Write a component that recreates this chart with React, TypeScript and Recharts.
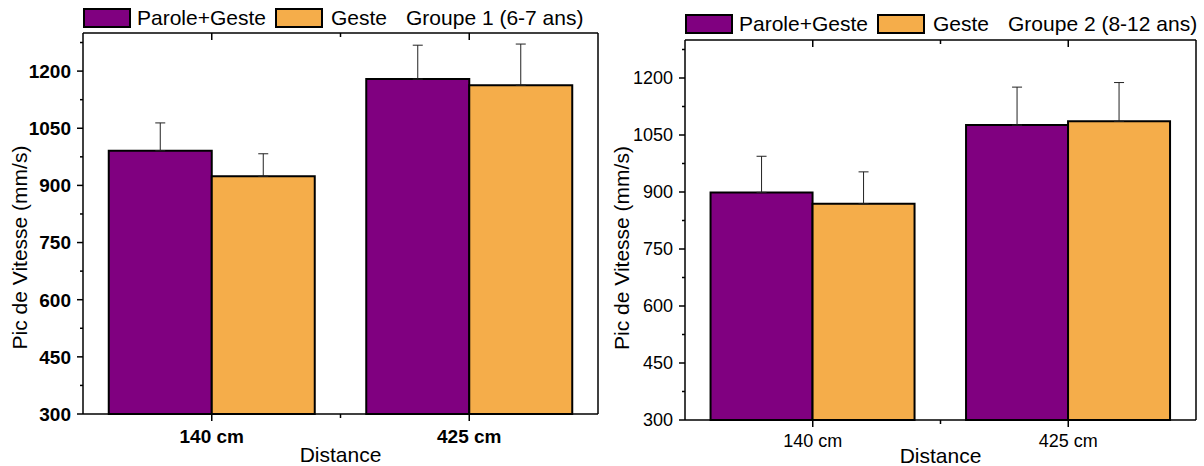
import { Bar, BarChart, ErrorBar, Label, XAxis, YAxis } from 'recharts'

const DISTANCES = ['140 cm', '425 cm']
const POSITIONS = [1, 2]
const SERIES = ['Parole+Geste', 'Geste']

const G1_PAROLE_GESTE = [991, 1179]
const G1_PAROLE_GESTE_ERR = [73, 89]
const G1_GESTE = [924, 1163]
const G1_GESTE_ERR = [59, 108]

const G2_PAROLE_GESTE = [899, 1076]
const G2_PAROLE_GESTE_ERR = [95, 100]
const G2_GESTE = [869, 1086]
const G2_GESTE_ERR = [84, 102]

const Y_MAJOR = [300, 450, 600, 750, 900, 1050, 1200]
const Y_MINOR = [375, 525, 675, 825, 975, 1125, 1275]
const Y_TICKS = [...Y_MAJOR, ...Y_MINOR].sort((a, b) => a - b)
const X_TICKS = [1, 1.5, 2]

const COLORS = {
  paroleGeste: '#800080',
  geste: '#F5AD4A',
  axis: '#000',
  err: '#222',
}

function buildRows(pg: number[], pgErr: number[], g: number[], gErr: number[]) {
  return DISTANCES.map((d, i) => ({
    distance: d,
    pos: POSITIONS[i],
    pg: pg[i],
    pgErr: [0, pgErr[i]],
    g: g[i],
    gErr: [0, gErr[i]],
  }))
}

const group1 = buildRows(G1_PAROLE_GESTE, G1_PAROLE_GESTE_ERR, G1_GESTE, G1_GESTE_ERR)
const group2 = buildRows(G2_PAROLE_GESTE, G2_PAROLE_GESTE_ERR, G2_GESTE, G2_GESTE_ERR)

type PanelCfg = {
  rows: typeof group1
  title: string
  left: number
  margin: { top: number; right: number; left: number; bottom: number }
  bottomHeight: number
  bold: boolean
  fontSize: number
  legendTop: number
  yTitleShift: number
  xTitleOffset: number
  xLabelOffset: number
}

function Panel(cfg: PanelCfg) {
  const weight = cfg.bold ? 'bold' : 'normal'

  const leftTick = (p: any) => {
    const major = Y_MAJOR.includes(p.payload.value)
    return (
      <g>
        <line x1={p.x - (major ? 6 : 3)} x2={p.x} y1={p.y} y2={p.y} stroke={COLORS.axis} strokeWidth={1.5} />
        {major && (
          <text x={p.x - 12} y={p.y} dy="0.36em" textAnchor="end" fontSize={cfg.fontSize} fontWeight={weight} fill="#000">
            {p.payload.value}
          </text>
        )}
      </g>
    )
  }
  const rightTick = (p: any) => {
    const major = Y_MAJOR.includes(p.payload.value)
    return <line x1={p.x - (major ? 6 : 3)} x2={p.x} y1={p.y} y2={p.y} stroke={COLORS.axis} strokeWidth={1.5} />
  }
  const topTick = (p: any) => {
    const major = POSITIONS.includes(p.payload.value)
    return <line x1={p.x} x2={p.x} y1={p.y} y2={p.y + (major ? 7 : 4)} stroke={COLORS.axis} strokeWidth={1.5} />
  }
  const bottomTick = (p: any) => {
    const idx = POSITIONS.indexOf(p.payload.value)
    return (
      <g>
        <line x1={p.x} x2={p.x} y1={p.y} y2={p.y + (idx >= 0 ? 7 : 4)} stroke={COLORS.axis} strokeWidth={1.5} />
        {idx >= 0 && (
          <text x={p.x} y={p.y + cfg.xLabelOffset} dy="0.36em" textAnchor="middle" fontSize={cfg.fontSize} fontWeight={weight} fill="#000">
            {DISTANCES[idx]}
          </text>
        )}
      </g>
    )
  }

  return (
    <div style={{ position: 'absolute', left: cfg.left, top: 0 }}>
      <div
        style={{
          position: 'absolute',
          top: cfg.legendTop,
          left: cfg.margin.left + 83,
          display: 'flex',
          alignItems: 'center',
          fontSize: 21,
          whiteSpace: 'nowrap',
          zIndex: 2,
        }}
      >
        <span style={{ width: 48, height: 20, boxSizing: 'border-box', border: '2px solid #000', background: COLORS.paroleGeste }} />
        <span style={{ marginLeft: 6 }}>{SERIES[0]}</span>
        <span style={{ width: 48, height: 20, marginLeft: 9, boxSizing: 'border-box', border: '2px solid #000', background: COLORS.geste }} />
        <span style={{ marginLeft: 8 }}>{SERIES[1]}</span>
        <span style={{ marginLeft: 19 }}>{cfg.title}</span>
      </div>
      <BarChart
        width={602}
        height={466}
        data={cfg.rows}
        margin={cfg.margin}
        barCategoryGap="10%"
        barGap={0}
      >
        <XAxis xAxisId="cat" dataKey="distance" hide />
        <XAxis
          xAxisId="bottom"
          dataKey="pos"
          type="number"
          domain={[0.5, 2.5]}
          ticks={X_TICKS}
          interval={0}
          height={cfg.bottomHeight}
          tickSize={0}
          tickMargin={0}
          tickLine={false}
          tick={bottomTick}
          axisLine={{ stroke: COLORS.axis, strokeWidth: 1.5 }}
        >
          <Label
            content={(p: any) => {
              const vb = p.viewBox
              return (
                <text x={vb.x + vb.width / 2} y={vb.y + cfg.xTitleOffset} textAnchor="middle" fontSize={21} fill="#000">
                  Distance
                </text>
              )
            }}
          />
        </XAxis>
        <XAxis
          xAxisId="top"
          orientation="top"
          dataKey="pos"
          type="number"
          domain={[0.5, 2.5]}
          ticks={X_TICKS}
          interval={0}
          height={1}
          tickSize={0}
          tickMargin={0}
          tickLine={false}
          tick={topTick}
          axisLine={{ stroke: COLORS.axis, strokeWidth: 1.5 }}
        />
        <YAxis
          yAxisId="left"
          domain={[300, 1300]}
          ticks={Y_TICKS}
          interval={0}
          width={83}
          tickSize={0}
          tickMargin={0}
          tickLine={false}
          tick={leftTick}
          axisLine={{ stroke: COLORS.axis, strokeWidth: 1.5 }}
        >
          <Label
            content={(p: any) => {
              const vb = p.viewBox
              const cx = vb.x + 19
              const cy = vb.y + vb.height / 2 + cfg.yTitleShift
              return (
                <text x={cx} y={cy} dy="0.36em" textAnchor="middle" fontSize={21} fill="#000" transform={`rotate(-90, ${cx}, ${cy})`}>
                  Pic de Vitesse (mm/s)
                </text>
              )
            }}
          />
        </YAxis>
        <YAxis
          yAxisId="right"
          orientation="right"
          domain={[300, 1300]}
          ticks={Y_TICKS}
          interval={0}
          width={1}
          tickSize={0}
          tickMargin={0}
          tickLine={false}
          tick={rightTick}
          axisLine={{ stroke: COLORS.axis, strokeWidth: 1.5 }}
        />
        <Bar xAxisId="cat" yAxisId="left" dataKey="pg" name={SERIES[0]} fill={COLORS.paroleGeste} stroke="#000" strokeWidth={2} isAnimationActive={false}>
          <ErrorBar dataKey="pgErr" direction="y" width={5} stroke={COLORS.err} strokeWidth={1} isAnimationActive={false} />
        </Bar>
        <Bar xAxisId="cat" yAxisId="left" dataKey="g" name={SERIES[1]} fill={COLORS.geste} stroke="#000" strokeWidth={2} isAnimationActive={false}>
          <ErrorBar dataKey="gErr" direction="y" width={5} stroke={COLORS.err} strokeWidth={1} isAnimationActive={false} />
        </Bar>
      </BarChart>
    </div>
  )
}

export default function App() {
  return (
    <div
      style={{
        position: 'absolute',
        left: 0,
        top: 0,
        width: 1204,
        height: 466,
        background: '#fff',
        fontFamily: '"Liberation Sans", Arial, sans-serif',
      }}
    >
      <Panel
        rows={group1}
        title="Groupe 1 (6-7 ans)"
        left={0}
        margin={{ top: 32, right: 3, left: 0, bottom: 0 }}
        bottomHeight={52}
        bold
        fontSize={19}
        legendTop={6}
        yTitleShift={24}
        xTitleOffset={48}
        xLabelOffset={22}
      />
      <Panel
        rows={group2}
        title="Groupe 2 (8-12 ans)"
        left={602}
        margin={{ top: 39, right: 7, left: 0, bottom: 0 }}
        bottomHeight={46}
        bold={false}
        fontSize={18}
        legendTop={12}
        yTitleShift={18}
        xTitleOffset={43}
        xLabelOffset={21}
      />
    </div>
  )
}
